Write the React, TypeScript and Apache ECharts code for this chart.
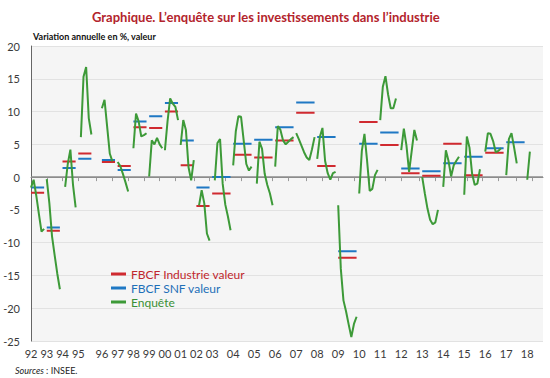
import React, { useEffect, useRef } from 'react';
import * as echarts from 'echarts';

// Year labels and the survey period at which each year block starts on the axis
const yearLabels = ['92','93','94','95','96','97','98','99','00','01','02','03','04','05','06','07','08','09','10','11','12','13','14','15','16','17','18'];
const yearStart = [0,6,12,18,27,33,39,45,51,57,63,69,77,85,93,101,109,117,125,133,141,149,157,165,173,181,189];
const periodCount = 196;

// Realised annual values (FBCF)
const fbcfIndustrie = [-2.4,-8.2,2.4,3.6,2.3,1.7,7.6,7.5,10.0,1.8,-4.4,-2.5,3.4,3.0,5.6,9.8,1.7,-12.3,8.4,4.9,0.6,0.2,5.1,0.3,3.7,null,null];
const fbcfSnf = [-1.6,-7.7,1.4,2.8,2.6,1.1,8.5,9.3,11.3,5.6,-1.6,0.0,5.1,5.7,7.6,11.4,6.1,-11.3,5.1,6.8,1.3,0.9,2.1,3.1,4.4,5.3,null];

// Survey (Enquête) successive estimates for each year, starting at the year's first period
const enquete: (number | null)[][] = [
  [-1.6,-0.4,-2.8,-5.6,-8.3,-7.9],
  [-0.3,-4.0,-9.0,-11.9,-14.7,-17.1],
  [null,-1.5,2.0,4.2,-1.2,-4.6],
  [null,6.1,15.3,16.8,9.0,6.5],
  [10.5,11.8,7.7,3.6,2.4],
  [2.3,1.7,0.5,-0.8,-2.2],
  [4.4,9.7,8.5,6.2,6.4,6.7],
  [0.1,5.6,5.0,6.0,5.0,4.4],
  [4.1,8.5,12.0,11.2,10.7,8.7],
  [4.9,8.7,7.2,1.5,-0.5,2.6],
  [null,-4.3,-2.0,-4.0,-8.6,-9.7],
  [null,-0.5,5.2,5.8,-1.0,-4.2,-6.0,-8.1],
  [1.8,7.0,9.3,9.2,5.6,2.0,1.0,1.6],
  [null,-1.0,5.4,4.3,0.5,-1.2,-2.5,-4.3],
  [1.6,7.8,7.2,5.6,5.0,5.4,5.8,6.1],
  [6.7,5.8,4.8,3.8,3.0,2.6,4.2,6.1],
  [2.8,6.1,7.5,2.5,0.6,-0.4,0.6,0.8],
  [-4.3,-14.0,-18.8,-20.5,-22.5,-24.4,-22.4,-21.3],
  [-2.5,4.0,6.6,2.5,-2.1,-1.8,0.3,1.1],
  [8.7,13.8,15.4,12.6,10.5,10.5,12.0],
  [4.1,7.4,4.8,0.8,4.0,7.2,5.6],
  [0.0,-2.5,-4.8,-6.5,-7.2,-6.9,-5.0],
  [-1.5,4.1,2.5,0.1,1.8,2.5,3.1],
  [-2.7,6.2,4.5,0.5,-1.2,-1.0,1.2],
  [3.9,6.7,6.6,5.5,3.8,4.0,4.4],
  [0.3,5.8,6.7,4.5,2.1],
  [-0.4,3.9],
];

const RED = '#d02a30';
const BLUE = '#1f78c4';
const GREEN = '#3d9a38';
const FONT = 'Lato';

function emptyPeriods(): (number | null)[] {
  return new Array(periodCount).fill(null);
}

export default function App() {
  const ref = useRef<HTMLDivElement>(null);
  useEffect(() => {
    if (!ref.current) return;
    const chart = echarts.init(ref.current, null, { renderer: 'svg' });

    const categories = Array.from({ length: periodCount }, (_, i) => 'p' + i);
    const labelAt: Record<number, string> = {};
    yearStart.forEach((s, k) => { labelAt[s] = yearLabels[k]; });

    // dashes: alternate parity so adjacent blocks are not joined
    const redArr = [emptyPeriods(), emptyPeriods()];
    const blueArr = [emptyPeriods(), emptyPeriods()];
    const greenArr = [emptyPeriods(), emptyPeriods()];
    yearStart.forEach((s, k) => {
      const len = s < 69 ? 5 : 7;
      const r = fbcfIndustrie[k];
      const b = fbcfSnf[k];
      for (let i = s; i <= s + len && i < periodCount; i++) {
        if (r !== null) redArr[k % 2][i] = r;
        if (b !== null) blueArr[k % 2][i] = b;
      }
      const vals = enquete[k] || [];
      vals.forEach((v, j) => { if (v !== null) greenArr[k % 2][s + j] = v; });
    });

    const line = (name: string, data: (number | null)[], color: string, z: number, extra: any = {}) => ({
      type: 'line', name, data, showSymbol: false, symbol: 'none', connectNulls: false,
      lineStyle: { color, width: 2 }, itemStyle: { color }, z, silent: true, ...extra,
    });

    const tickEvery = (periodCount - 1) / 31.7;

    chart.setOption({
      animation: false,
      backgroundColor: '#ffffff',
      title: {
        text: 'Graphique. L\u2019enqu\u00eate sur les investissements dans l\u2019industrie',
        left: 87, top: 5,
        textStyle: { fontFamily: FONT, fontWeight: 'bold', fontSize: 13, color: '#b3242c' },
      },
      graphic: [
        { type: 'text', left: 33, top: 32, style: { text: 'Variation annuelle en %, valeur', font: `bold 9px ${FONT}`, fill: '#111' } },
        { type: 'text', left: 15, top: 366, style: { text: '{i|Sources} : INSEE.', font: `9px ${FONT}`, fill: '#222', rich: { i: { fontStyle: 'italic', fontFamily: FONT, fontSize: 9, fill: '#222' } } } },
      ],
      legend: {
        orient: 'vertical', left: 111, top: 268, padding: 0, itemWidth: 15, itemHeight: 3, itemGap: 2,
        icon: 'rect', selectedMode: false,
        textStyle: { fontFamily: FONT, fontSize: 12 },
        data: [
          { name: 'FBCF Industrie valeur', textStyle: { color: '#c0272d' } },
          { name: 'FBCF SNF valeur', textStyle: { color: '#1e70b8' } },
          { name: 'Enquête', textStyle: { color: '#3a8f35' } },
        ],
      },
      grid: { left: 31, right: 7, top: 46, bottom: 37, show: true, backgroundColor: '#f5f5f5', borderWidth: 0 },
      xAxis: {
        type: 'category', data: categories, boundaryGap: false,
        axisLine: { show: true, lineStyle: { color: '#8a8a8a', width: 1 } },
        axisTick: {
          show: true, length: 4, lineStyle: { color: '#9a9a9a' },
          interval: (i: number) => i > 0 && Math.round(Math.round(i / tickEvery) * tickEvery) === i,
        },
        axisLabel: {
          interval: 0, margin: 7, fontFamily: FONT, fontSize: 11, color: '#3a3a3a',
          formatter: (_v: string, i: number) => labelAt[i] ?? '',
        },
        splitLine: { show: false },
      },
      yAxis: {
        type: 'value', min: -25, max: 20, interval: 5,
        axisLine: { show: true, lineStyle: { color: '#666', width: 1 } },
        axisTick: { show: false },
        axisLabel: { margin: 11, fontFamily: FONT, fontSize: 11, color: '#3a3a3a' },
        splitLine: { show: true, lineStyle: { color: '#e2e2e2', width: 1 } },
      },
      series: [
        line('FBCF Industrie valeur', redArr[0], RED, 2, {
          markLine: {
            silent: true, symbol: 'none', label: { show: false },
            lineStyle: { color: '#8c8c8c', width: 1.5, type: 'solid' },
            data: [{ yAxis: 0 }], z: 1,
          },
        }),
        line('FBCF Industrie valeur', redArr[1], RED, 2),
        line('FBCF SNF valeur', blueArr[0], BLUE, 3),
        line('FBCF SNF valeur', blueArr[1], BLUE, 3),
        line('Enquête', greenArr[0], GREEN, 4),
        line('Enquête', greenArr[1], GREEN, 4),
      ],
    });
    return () => chart.dispose();
  }, []);
  return <div ref={ref} style={{ position: 'fixed', left: 0, top: 0, width: 550, height: 378 }} />;
}
